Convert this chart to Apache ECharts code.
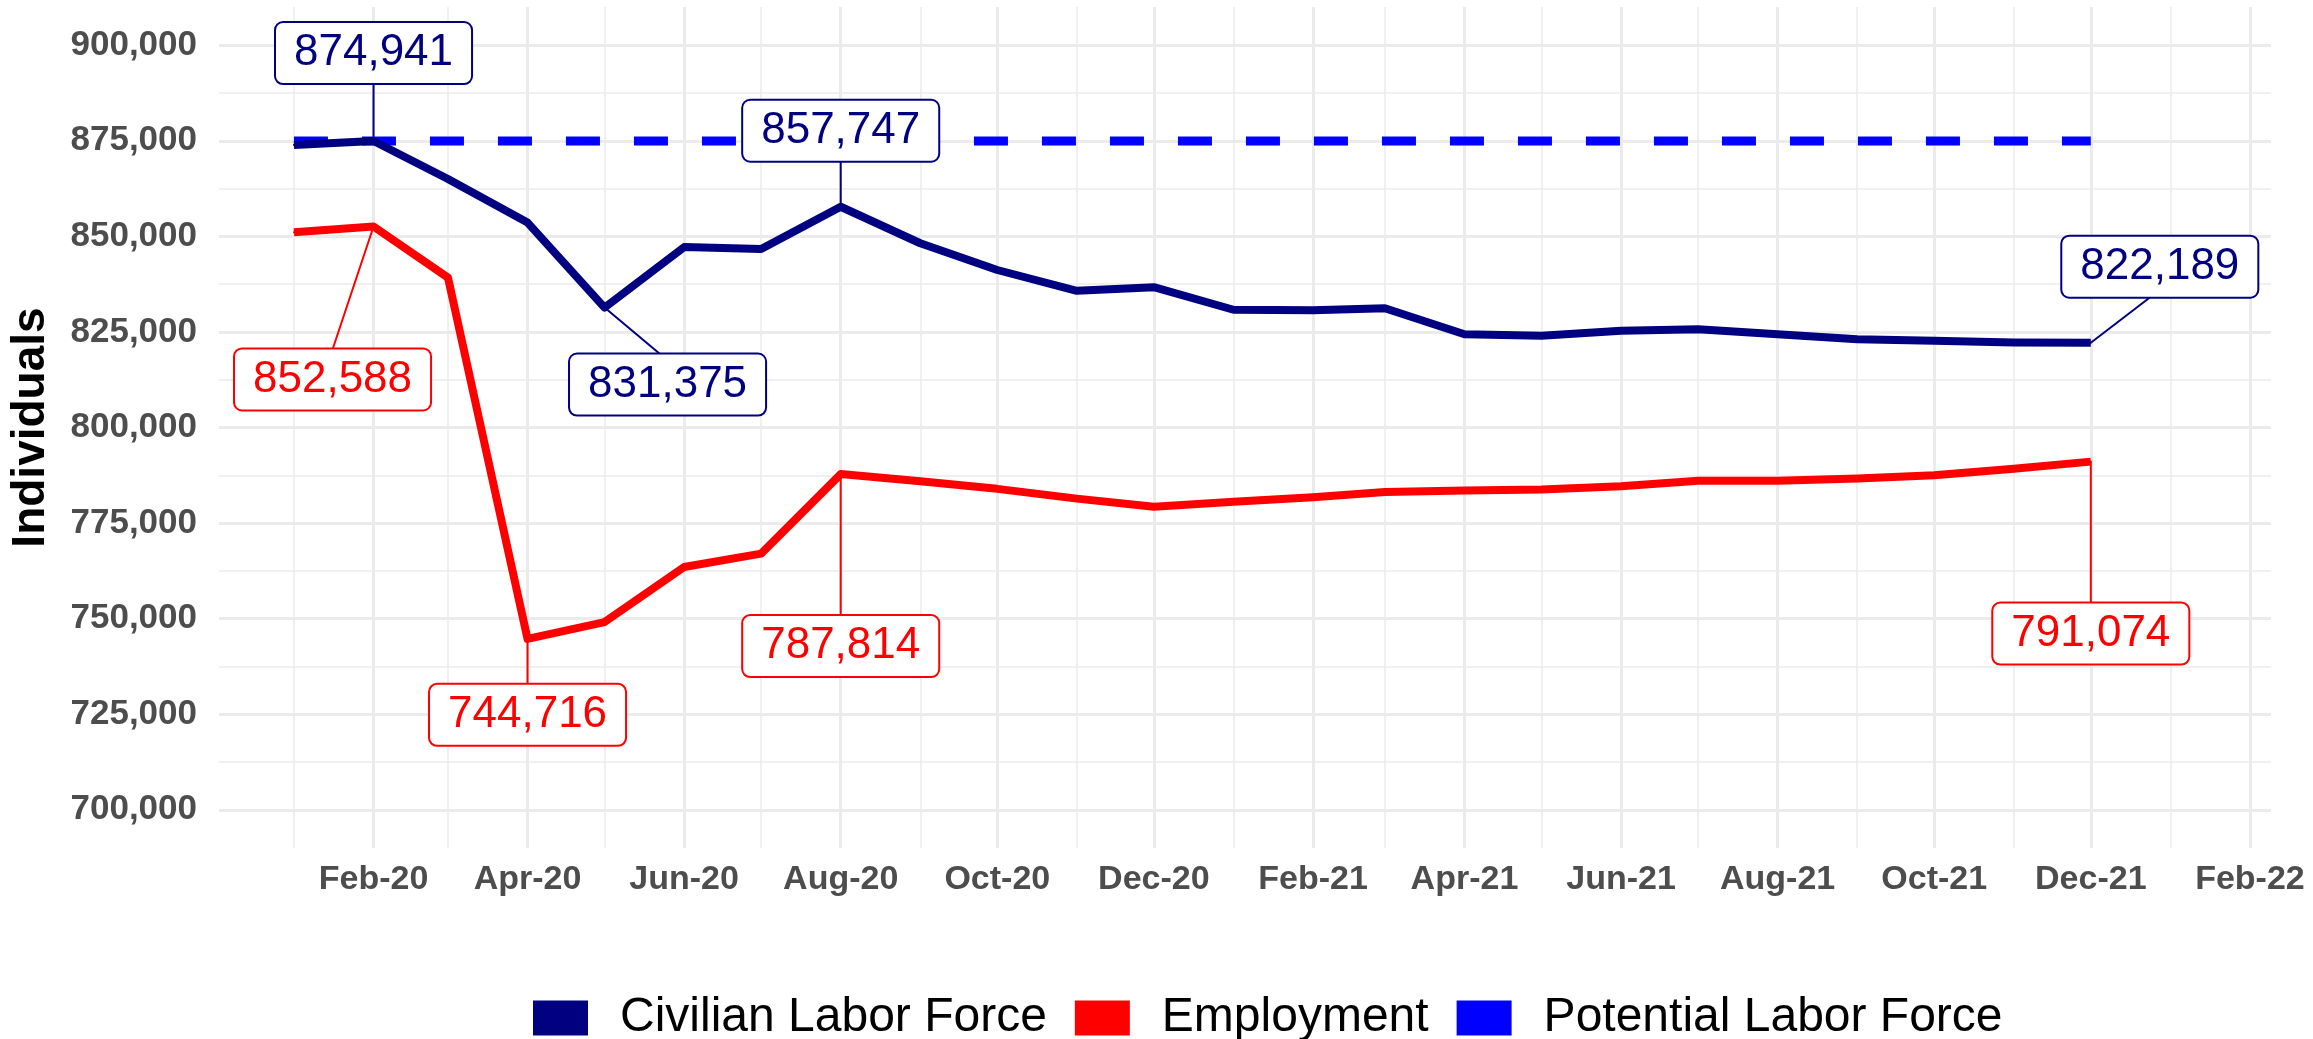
<!DOCTYPE html>
<html>
<head>
<meta charset="utf-8">
<script src="https://cdn.jsdelivr.net/npm/echarts@6/dist/echarts.min.js"></script>
<style>
html,body{margin:0;padding:0;background:#ffffff;}
#chart{width:2313px;height:1039px;}
</style>
</head>
<body>
<div id="chart"></div>
<script>
// ---------------- DATA ----------------
const months = ['2020-01','2020-02','2020-03','2020-04','2020-05','2020-06','2020-07','2020-08','2020-09','2020-10','2020-11','2020-12',
                '2021-01','2021-02','2021-03','2021-04','2021-05','2021-06','2021-07','2021-08','2021-09','2021-10','2021-11','2021-12'];
const civilianLaborForce = [873900, 874941, 865000, 853600, 831375, 847200, 846700, 857747, 848200, 841200, 835750, 836700,
                            830800, 830700, 831200, 824400, 824000, 825300, 825700, 824400, 823100, 822700, 822250, 822189];
const employment = [851100, 852588, 839200, 744716, 749100, 763500, 767000, 787814, 785950, 783950, 781400, 779250,
                    780550, 781750, 783100, 783500, 783800, 784650, 786100, 786100, 786650, 787500, 789200, 791074];
const potentialLaborForce = 874941;
const potentialMonths = ['2020-01', '2021-12'];
const labeledCivilian = ['2020-02', '2020-05', '2020-08', '2021-12'];
const labeledEmployment = ['2020-02', '2020-04', '2020-08', '2021-12'];
const seriesNames = ['Civilian Labor Force', 'Employment', 'Potential Labor Force'];
const xMajorTicks = ['2020-02','2020-04','2020-06','2020-08','2020-10','2020-12','2021-02','2021-04','2021-06','2021-08','2021-10','2021-12','2022-02'];
const xMinorTicks = ['2020-01','2020-03','2020-05','2020-07','2020-09','2020-11','2021-01','2021-03','2021-05','2021-07','2021-09','2021-11','2022-01'];
const yMajorTicks = [700000, 725000, 750000, 775000, 800000, 825000, 850000, 875000, 900000];
const yMinorTicks = [712500, 737500, 762500, 787500, 812500, 837500, 862500, 887500];

// ---------------- LAYOUT / STYLE ----------------
const DAY = 86400000;
const FONT = "'Liberation Sans', Arial, Helvetica, sans-serif";
const MON = ['Jan','Feb','Mar','Apr','May','Jun','Jul','Aug','Sep','Oct','Nov','Dec'];
function ts(m) { const p = m.split('-'); return Date.UTC(+p[0], +p[1] - 1, 1); }
const xMin = ts('2020-01') - 29.2 * DAY;
const xMax = ts('2022-02') + 8.2 * DAY;
const colors = { clf: '#000080', emp: '#FF0000', pot: '#0000FF' };
const gridColor = '#EBEBEB';
// label offsets (px from point) and connector anchor (px from label centre)
const labelPlace = {
  clf: { '2020-02': [0, -88, 0, 30], '2020-05': [63, 77, -7, -30], '2020-08': [0, -76, 0, 30], '2021-12': [69, -76, -9, 30] },
  emp: { '2020-02': [-41, 153, 0, -30], '2020-04': [0, 76, 0, -30], '2020-08': [0, 172, 0, -30], '2021-12': [0, 172, 0, -30] }
};

function buildData(values, labeled, place) {
  return months.map((m, i) => {
    const item = { value: [ts(m), values[i]] };
    if (labeled.indexOf(m) >= 0) {
      item.label = { show: true, offset: [place[m][0], place[m][1]] };
    }
    return item;
  });
}
function labelStyle(c) {
  return {
    show: false, position: 'inside',
    formatter: p => p.value[1].toLocaleString('en-US'),
    fontFamily: FONT, fontSize: 44, lineHeight: 44, color: c,
    backgroundColor: '#ffffff', borderColor: c, borderWidth: 2, borderRadius: 7,
    padding: [8, 18]
  };
}
function fmtMonth(v) { const d = new Date(v); return MON[d.getUTCMonth()] + '-' + String(d.getUTCFullYear()).slice(2); }

const chart = echarts.init(document.getElementById('chart'), null, { renderer: 'canvas' });
const option = {
  animation: false,
  backgroundColor: '#ffffff',
  grid: { left: 217, right: 42, top: 7, bottom: 191, containLabel: false },
  legend: {
    data: seriesNames.map(n => ({ name: n, icon: 'rect' })),
    left: 528, top: 989,
    itemWidth: 55, itemHeight: 35, itemGap: 28,
    itemStyle: { borderWidth: 0 },
    textStyle: { fontFamily: FONT, fontSize: 48, color: '#000000', padding: [0, 0, 0, 27] },
    selectedMode: false
  },
  xAxis: [
    {
      type: 'value', min: xMin, max: xMax, scale: true,
      axisLine: { show: false },
      axisTick: { show: false, customValues: xMajorTicks.map(ts) },
      axisLabel: {
        customValues: xMajorTicks.map(ts), formatter: fmtMonth,
        fontFamily: FONT, fontSize: 34, fontWeight: 'bold', color: '#4D4D4D', margin: 15
      },
      splitLine: { show: true, lineStyle: { color: gridColor, width: 3 } }
    },
    {
      type: 'value', min: xMin, max: xMax, scale: true, position: 'bottom',
      axisLine: { show: false },
      axisTick: { show: false, customValues: xMinorTicks.map(ts) },
      axisLabel: { show: false },
      splitLine: { show: true, lineStyle: { color: gridColor, width: 1.5 } }
    }
  ],
  yAxis: [
    {
      type: 'value', min: 690000, max: 910000, position: 'left',
      name: 'Individuals', nameLocation: 'middle', nameGap: 165,
      nameTextStyle: { fontFamily: FONT, fontSize: 46, fontWeight: 'bold', color: '#000000' },
      axisLine: { show: false },
      axisTick: { show: false, customValues: yMajorTicks },
      axisLabel: {
        customValues: yMajorTicks, formatter: v => v.toLocaleString('en-US'),
        fontFamily: FONT, fontSize: 35, fontWeight: 'bold', color: '#4D4D4D', margin: 22
      },
      splitLine: { show: true, lineStyle: { color: gridColor, width: 3 } }
    },
    {
      type: 'value', min: 690000, max: 910000, position: 'left',
      axisLine: { show: false },
      axisTick: { show: false, customValues: yMinorTicks },
      axisLabel: { show: false },
      splitLine: { show: true, lineStyle: { color: gridColor, width: 1.5 } }
    }
  ],
  series: [
    {
      name: seriesNames[0], type: 'line', xAxisIndex: 0, yAxisIndex: 0,
      data: buildData(civilianLaborForce, labeledCivilian, labelPlace.clf),
      symbol: 'circle', symbolSize: 2, showSymbol: true, showAllSymbol: true,
      itemStyle: { color: colors.clf },
      lineStyle: { color: colors.clf, width: 8, join: 'round', cap: 'butt' },
      label: labelStyle(colors.clf),
      emphasis: { disabled: true }, z: 3
    },
    {
      name: seriesNames[1], type: 'line', xAxisIndex: 0, yAxisIndex: 0,
      data: buildData(employment, labeledEmployment, labelPlace.emp),
      symbol: 'circle', symbolSize: 2, showSymbol: true, showAllSymbol: true,
      itemStyle: { color: colors.emp },
      lineStyle: { color: colors.emp, width: 8, join: 'round', cap: 'butt' },
      label: labelStyle(colors.emp),
      emphasis: { disabled: true }, z: 3
    },
    {
      name: seriesNames[2], type: 'line', xAxisIndex: 0, yAxisIndex: 0,
      data: potentialMonths.map(m => [ts(m), potentialLaborForce]),
      showSymbol: false, symbol: 'none',
      itemStyle: { color: colors.pot },
      lineStyle: { color: colors.pot, width: 9, type: [34, 34], cap: 'butt' },
      emphasis: { disabled: true }, z: 2
    }
  ]
};
chart.setOption(option);

// connector lines from data points to their labels
const connectors = [];
function addConnectors(values, labeled, place, color) {
  labeled.forEach(m => {
    const i = months.indexOf(m);
    const p = chart.convertToPixel({ xAxisIndex: 0, yAxisIndex: 0 }, [ts(m), values[i]]);
    const c = place[m];
    connectors.push({
      type: 'line', silent: true, z: 2,
      shape: { x1: p[0], y1: p[1], x2: p[0] + c[0] + c[2], y2: p[1] + c[1] + c[3] },
      style: { stroke: color, lineWidth: 2 }
    });
  });
}
addConnectors(civilianLaborForce, labeledCivilian, labelPlace.clf, colors.clf);
addConnectors(employment, labeledEmployment, labelPlace.emp, colors.emp);
chart.setOption({ graphic: { elements: connectors } });
</script>
</body>
</html>
